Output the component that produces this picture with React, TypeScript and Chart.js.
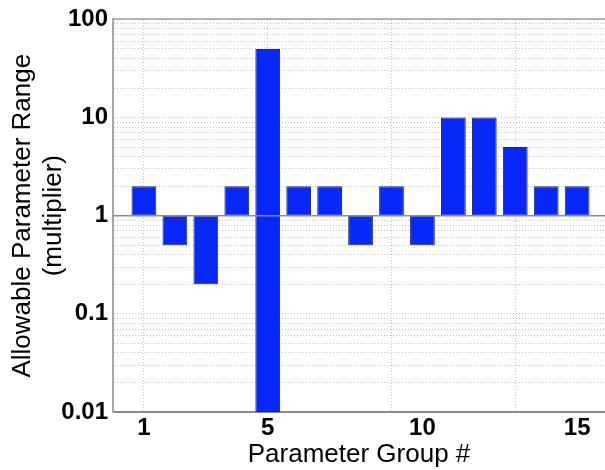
import React, { useEffect, useRef } from "react";
import { Chart, registerables } from "chart.js";

Chart.register(...registerables);

// ---- data ----
const groups = [1, 2, 3, 4, 5, 6, 7, 8, 9, 10, 11, 12, 13, 14, 15];
const rangeLow = [1, 0.5, 0.2, 1, 0.01, 1, 1, 0.5, 1, 0.5, 1, 1, 1, 1, 1];
const rangeHigh = [2, 1, 1, 2, 50, 2, 2, 1, 2, 1, 10, 10, 5, 2, 2];
const baselineValue = 1;

const xTickValues = [1, 5, 10, 15];
const xGridValues = [1, 5, 9, 13];
const xMin = 0;
const xMax = 15.9;

const yTickValues = [0.01, 0.1, 1, 10, 100];
const yTickLabels = ["0.01", "0.1", "1", "10", "100"];
const yMinorMultipliers = [2, 3, 4, 5, 6, 7, 8, 9];

const xTitle = "Parameter Group #";
const yTitle = ["Allowable Parameter Range", "(multiplier)"];

const FONT = "'Liberation Sans', Arial, sans-serif";
const BAR_FILL = "rgb(8, 40, 250)";
const BAR_EDGE = "#1c2a7a";
const GRID = "#c4c4c4";

const baselinePlugin = {
  id: "baselineLine",
  afterDatasetsDraw(chart: any) {
    const { ctx, chartArea, scales } = chart;
    const y = scales.y.getPixelForValue(baselineValue);
    ctx.save();
    ctx.strokeStyle = "#8e8e8e";
    ctx.lineWidth = 1.5;
    ctx.beginPath();
    ctx.moveTo(chartArea.left, y);
    ctx.lineTo(chartArea.right, y);
    ctx.stroke();
    ctx.restore();
  },
};

export default function App() {
  const canvasRef = useRef<HTMLCanvasElement | null>(null);

  useEffect(() => {
    const canvas = canvasRef.current;
    if (!canvas) return;
    const chart = new Chart(canvas, {
      type: "bar",
      data: {
        datasets: [
          {
            data: groups.map((g, i) => ({ x: g, y: [rangeLow[i], rangeHigh[i]] })) as any,
            backgroundColor: BAR_FILL,
            borderColor: BAR_EDGE,
            borderWidth: 1,
            borderSkipped: false,
            barPercentage: 1,
            categoryPercentage: 0.8,
          },
        ],
      },
      options: {
        animation: false,
        responsive: false,
        maintainAspectRatio: false,
        layout: { padding: { top: 18, right: 0, bottom: 0, left: 0 } },
        plugins: { legend: { display: false }, tooltip: { enabled: false } },
        scales: {
          x: {
            type: "linear",
            position: "bottom",
            offset: false,
            min: xMin,
            max: xMax,
            afterBuildTicks: (scale: any) => {
              scale.ticks = xTickValues.map((v) => ({ value: v }));
            },
            afterFit: (scale: any) => {
              scale.height = 58;
            },
            grid: { display: false, drawTicks: false, offset: false },
            border: { display: true, color: "#8a8a8a", width: 2 },
            ticks: {
              padding: 2,
              color: "#000",
              font: { family: FONT, size: 24, weight: "bold" },
              maxRotation: 0,
              autoSkip: false,
              callback: (v: any) => String(v),
            },
            title: {
              display: true,
              text: xTitle,
              color: "#000",
              font: { family: FONT, size: 26 },
              padding: { top: 0, bottom: 0 },
            },
          },
          x2: {
            type: "linear",
            position: "top",
            offset: false,
            min: xMin,
            max: xMax,
            afterBuildTicks: (scale: any) => {
              scale.ticks = xGridValues.map((v) => ({ value: v }));
            },
            afterFit: (scale: any) => {
              scale.height = 0;
            },
            grid: { display: true, drawTicks: false, offset: false, color: GRID, lineWidth: 1 },
            border: { display: true, color: "#b4b4b4", width: 2, dash: [1, 2] },
            ticks: { display: false },
          },
          y: {
            type: "logarithmic",
            position: "left",
            min: yTickValues[0],
            max: yTickValues[yTickValues.length - 1],
            afterBuildTicks: (scale: any) => {
              const ticks: any[] = [];
              for (let d = 0; d < yTickValues.length; d++) {
                ticks.push({ value: yTickValues[d], major: true });
                if (d < yTickValues.length - 1) {
                  for (const m of yMinorMultipliers) {
                    ticks.push({ value: yTickValues[d] * m, major: false });
                  }
                }
              }
              scale.ticks = ticks;
            },
            afterFit: (scale: any) => {
              scale.width = 113;
            },
            grid: { display: true, drawTicks: false, color: GRID, lineWidth: 1 },
            border: { display: true, color: "#a6a6a6", width: 2, dash: [1, 2] },
            ticks: {
              padding: 5,
              color: "#000",
              autoSkip: false,
              font: { family: FONT, size: 24, weight: "bold" },
              callback: (v: any) => {
                const idx = yTickValues.findIndex((t) => Math.abs(t - Number(v)) < t * 1e-6);
                return idx >= 0 ? yTickLabels[idx] : "";
              },
            },
            title: {
              display: true,
              text: yTitle,
              color: "#000",
              font: { family: FONT, size: 26, lineHeight: 1.2 },
              padding: { top: 7, bottom: 0 },
            },
          },
        },
      },
      plugins: [baselinePlugin],
    } as any);
    return () => chart.destroy();
  }, []);

  return (
    <div style={{ position: "absolute", left: 0, top: 0, width: 605, height: 470, background: "#fff" }}>
      <canvas ref={canvasRef} width={605} height={470} style={{ display: "block" }} />
    </div>
  );
}
